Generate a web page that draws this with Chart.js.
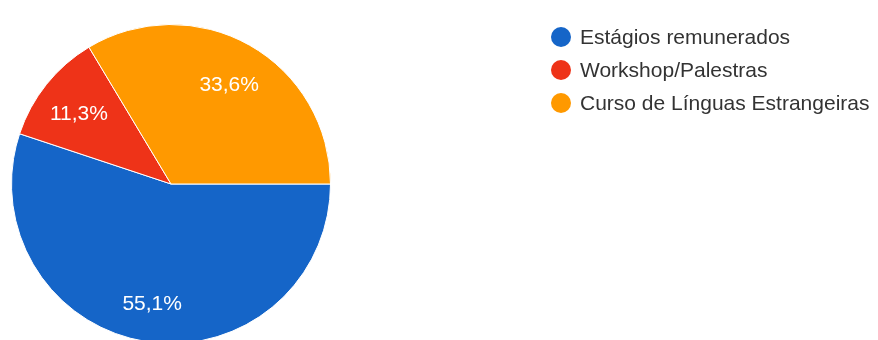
<!DOCTYPE html>
<html>
<head>
<meta charset="utf-8">
<script src="https://cdn.jsdelivr.net/npm/chart.js@4.4.0/dist/chart.umd.min.js"></script>
<style>
html,body{margin:0;padding:0;background:#fff;overflow:hidden;}
#wrap{position:relative;width:878px;height:340px;overflow:hidden;}
canvas{position:absolute;left:0;top:0;}
</style>
</head>
<body>
<div id="wrap"><canvas id="c" width="878" height="346"></canvas></div>
<script>
const categories = ["Estágios remunerados", "Workshop/Palestras", "Curso de Línguas Estrangeiras"];
const values = [55.1, 11.3, 33.6];
const valueLabels = ["55,1%", "11,3%", "33,6%"];
const colors = ["#1565c8", "#ee3318", "#ff9900"];

const sliceLabels = {
  id: 'sliceLabels',
  afterDatasetsDraw(chart) {
    const ctx = chart.ctx;
    const meta = chart.getDatasetMeta(0);
    ctx.save();
    ctx.font = '21px "Liberation Sans", Arial, sans-serif';
    ctx.fillStyle = '#ffffff';
    ctx.textAlign = 'center';
    ctx.textBaseline = 'middle';
    meta.data.forEach((arc, i) => {
      const p = arc.getProps(['x','y','startAngle','endAngle','outerRadius'], true);
      const mid = (p.startAngle + p.endAngle) / 2;
      const r = p.outerRadius * 0.74;
      ctx.fillText(valueLabels[i], p.x + Math.cos(mid) * r, p.y + Math.sin(mid) * r + 4);
    });
    ctx.restore();
  }
};

const sideLegend = {
  id: 'sideLegend',
  afterDraw(chart) {
    const ctx = chart.ctx;
    ctx.save();
    ctx.font = '21px "Liberation Sans", Arial, sans-serif';
    ctx.textBaseline = 'middle';
    chart.data.labels.forEach((lab, i) => {
      const y = 37 + i * 33;
      ctx.beginPath();
      ctx.arc(561, y, 10, 0, Math.PI * 2);
      ctx.fillStyle = chart.data.datasets[0].backgroundColor[i];
      ctx.fill();
      ctx.fillStyle = '#333333';
      ctx.fillText(lab, 580, y + 1);
    });
    ctx.restore();
  }
};

new Chart(document.getElementById('c'), {
  type: 'pie',
  data: {
    labels: categories,
    datasets: [{
      data: values,
      backgroundColor: colors,
      borderColor: '#ffffff',
      borderWidth: 1
    }]
  },
  options: {
    responsive: false,
    animation: false,
    rotation: 90,
    layout: { padding: { left: 10, right: 546, top: 24, bottom: 2 } },
    plugins: { legend: { display: false }, tooltip: { enabled: false } }
  },
  plugins: [sliceLabels, sideLegend]
});
</script>
</body>
</html>
